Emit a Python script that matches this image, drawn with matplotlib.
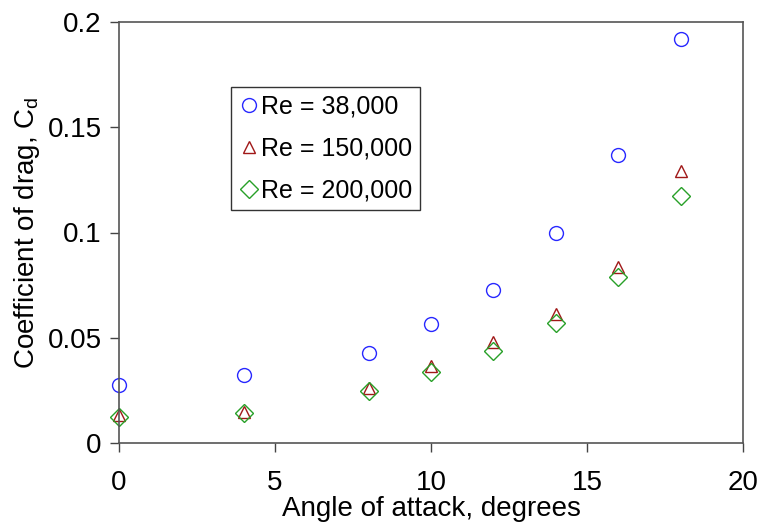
import numpy as np
import matplotlib.pyplot as plt

plt.rcParams['font.family'] = ['Liberation Sans', 'DejaVu Sans']

# angle of attack (degrees)
alpha = np.array([0, 4, 8, 10, 12, 14, 16, 18])
# drag coefficient for each Reynolds number
cd_38k = np.array([0.0276, 0.0323, 0.0428, 0.0563, 0.0727, 0.0998, 0.137, 0.192])
cd_150k = np.array([0.0135, 0.0148, 0.0262, 0.0368, 0.0478, 0.0612, 0.0835, 0.129])
cd_200k = np.array([0.0124, 0.0142, 0.0245, 0.0337, 0.0437, 0.0570, 0.0790, 0.1175])

fig = plt.figure(figsize=(7.61, 5.27), dpi=100)
ax = fig.add_axes([119/761, 1 - 443/527, (743-119)/761, (443-22)/527])

ax.plot(alpha, cd_38k, 'o', mfc='none', mec='#2828ff', mew=1.0, ms=10, label='Re = 38,000')
ax.plot(alpha, cd_150k, '^', mfc='none', mec='#a01818', mew=1.0, ms=8, label='Re = 150,000')
ax.plot(alpha, cd_200k, 'D', mfc='none', mec='#28a028', mew=1.0, ms=9, label='Re = 200,000')

ax.set_xlim(0, 20)
ax.set_ylim(0, 0.2)
ax.set_xticks([0, 5, 10, 15, 20])
ax.set_yticks([0, 0.05, 0.1, 0.15, 0.2])
ax.set_yticklabels(['0', '0.05', '0.1', '0.15', '0.2'])
ax.tick_params(direction='out', length=6.5, width=1, colors='#444444', labelcolor='black',
               labelsize=20, pad=6)
ax.tick_params(axis='x', pad=13)
for s in ax.spines.values():
    s.set_color('#555555')
    s.set_linewidth(1.2)
for ln in ax.lines:
    ln.set_clip_on(False)

ax.set_xlabel('Angle of attack, degrees', fontsize=20, labelpad=0)
ax.set_ylabel(r'Coefficient of drag, C$_\mathregular{d}$', fontsize=20, labelpad=4)

leg = ax.legend(loc='upper left', bbox_to_anchor=(112/624, (443-87)/421), fontsize=18,
                frameon=True, fancybox=False, edgecolor='black', handletextpad=0.1,
                handlelength=0.8, borderpad=0.3, labelspacing=0.72, borderaxespad=0)
leg.get_frame().set_linewidth(1.0)

fig.savefig('out.png', dpi=100)
